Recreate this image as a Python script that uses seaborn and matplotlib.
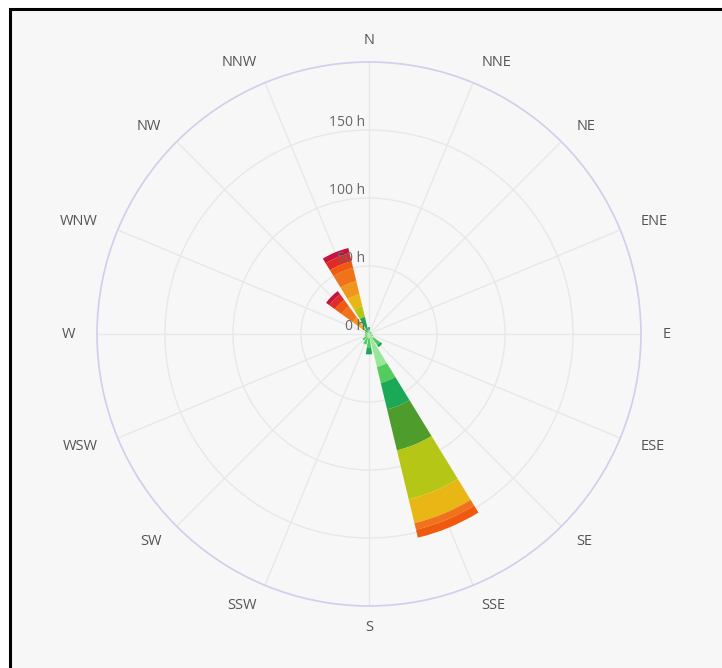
import numpy as np
import matplotlib
matplotlib.use("Agg")
import matplotlib.pyplot as plt
import matplotlib.transforms as mtransforms
from matplotlib.patches import Rectangle
import seaborn as sns

# wind directions (16 points), clockwise from north
directions = ["N", "NNE", "NE", "ENE", "E", "ESE", "SE", "SSE",
              "S", "SSW", "SW", "WSW", "W", "WNW", "NW", "NNW"]

# speed classes, from calm to strong
speed_classes = ["< 0.5 m/s", "0.5-1 m/s", "1-2 m/s", "2-3 m/s", "3-4 m/s", "4-5 m/s",
                 "5-6 m/s", "6-7 m/s", "7-8 m/s", "8-9 m/s", "> 9 m/s"]
speed_colors = ["#98e698", "#52cc5c", "#1ca957", "#4e9c2b", "#b5c617", "#e8b716",
                "#f0961c", "#f0721a", "#ef5a0e", "#e02a26", "#c5123e"]

# hours per direction for each speed class
hours = {
    "< 0.5 m/s": [2, 1, 1, 1, 1, 2, 4, 25, 3, 3, 2, 1, 1, 2, 1, 1],
    "0.5-1 m/s": [1, 1, 1, 1, 1, 1, 6, 12, 7, 5, 4, 2, 2, 1, 1, 2],
    "1-2 m/s":   [2, 0, 0, 0, 0, 0, 2, 20, 5, 0, 0, 0, 0, 0, 2, 10],
    "2-3 m/s":   [0, 0, 0, 0, 0, 0, 0, 31, 0, 0, 0, 0, 0, 0, 0, 0],
    "3-4 m/s":   [0, 0, 0, 0, 0, 0, 0, 37, 0, 0, 0, 0, 0, 0, 2, 8],
    "4-5 m/s":   [0, 0, 0, 0, 0, 0, 0, 18, 0, 0, 0, 0, 0, 0, 3, 9],
    "5-6 m/s":   [0, 0, 0, 0, 0, 0, 0, 0, 0, 0, 0, 0, 0, 0, 6, 10],
    "6-7 m/s":   [0, 0, 0, 0, 0, 0, 0, 5, 0, 0, 0, 0, 0, 0, 10, 10],
    "7-8 m/s":   [0, 0, 0, 0, 0, 0, 0, 6, 0, 0, 0, 0, 0, 0, 6, 5],
    "8-9 m/s":   [0, 0, 0, 0, 0, 0, 0, 0, 0, 0, 0, 0, 0, 0, 5, 6],
    "> 9 m/s":   [0, 0, 0, 0, 0, 0, 0, 0, 0, 0, 0, 0, 0, 0, 3, 4],
}

radial_ticks = [0, 50, 100, 150]

sns.set_theme(style="white")
plt.rcParams["font.family"] = ["Open Sans", "DejaVu Sans"]
palette = sns.color_palette(speed_colors)

fig = plt.figure(figsize=(7.22, 6.68), dpi=100)
fig.patch.set_facecolor("white")

# grey panel with black frame on the left and top
frame = Rectangle((10 / 722, -0.05), 1.2, (668 - 9) / 668 + 0.05,
                  transform=fig.transFigure, facecolor="#f7f7f7",
                  edgecolor="black", linewidth=2.2, zorder=-10)
fig.add_artist(frame)

ax = fig.add_axes([97 / 722, (668 - 606) / 668, 544 / 722, 544 / 668], projection="polar")
ax.set_facecolor("none")
ax.set_theta_zero_location("N")
ax.set_theta_direction(-1)

theta = np.deg2rad(np.arange(len(directions)) * 22.5)
width = np.deg2rad(18)

bottom = np.zeros(len(directions))
for cls, col in zip(speed_classes, palette):
    vals = np.array(hours[cls], dtype=float)
    ax.bar(theta, vals, width=width, bottom=bottom, color=col, linewidth=0, zorder=3)
    bottom += vals

ax.set_ylim(0, 200)
ax.set_yticks([50, 100, 150, 200])
ax.set_yticklabels([])
ax.set_xticks(theta)
ax.set_xticklabels([])
ax.grid(True, color="#e8e8e8", linewidth=1)
ax.spines["polar"].set_color("#cfd0ee")
ax.spines["polar"].set_linewidth(1.2)

# direction labels: left aligned on the east side, right aligned on the west side
for t, d in zip(theta, directions):
    deg = np.rad2deg(t)
    if deg in (0, 180):
        ha = "center"
    elif deg < 180:
        ha = "left"
    else:
        ha = "right"
    ax.text(t, 216, d, ha=ha, va="center", color="#555555",
            fontsize=10.5, clip_on=False)

# radial labels just left of the north line
lab_tr = mtransforms.offset_copy(ax.transData, fig=fig, x=-4, y=0, units="dots")
for v in radial_ticks:
    ax.text(0, v, f"{v} h", transform=lab_tr, ha="right", va="bottom",
            color="#666666", fontsize=10, zorder=5)

fig.savefig("out.png", dpi=100)
